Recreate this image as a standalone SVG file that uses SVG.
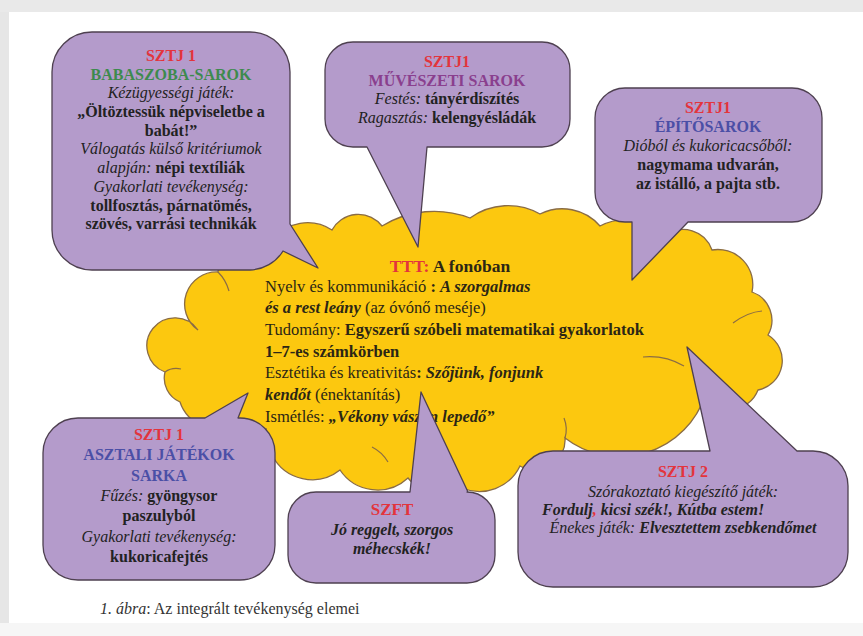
<svg xmlns="http://www.w3.org/2000/svg" width="863" height="636" viewBox="0 0 863 636">
<style>
text{font-family:"Liberation Serif","Times New Roman",serif;font-size:16px;fill:#222}
.c{text-anchor:middle}
.b{font-weight:bold}
.i{font-style:italic}
.bi{font-weight:bold;font-style:italic}
.red{fill:#e3343c}
.call{fill:#b49bcb;stroke:#4e4050;stroke-width:1.3;stroke-linejoin:round}
.cloud{fill:#fcc80f;stroke:#8a6c45;stroke-width:1.3}
.inner{fill:none;stroke:#8a6c45;stroke-width:1.2}
.ct{font-size:16.5px;fill:#2b2615}
</style>
<rect x="0" y="0" width="863" height="636" fill="#f6f6f6"/>
<rect x="0" y="0" width="863" height="12" fill="#e9e9e9"/>
<rect x="0" y="12" width="9" height="611" fill="#e6e6e6"/>
<rect x="9" y="12" width="854" height="611" fill="#ffffff"/>

<g id="cloud">
<path class="cloud" d="M 198 330 A 32 32 0 0 1 218 272 A 38 38 0 0 1 272 240 A 45 45 0 0 1 332 230 A 30 30 0 0 1 382 226 A 100 100 0 0 1 470 218 A 65 65 0 0 1 540 214 A 50 50 0 0 1 600 226 A 55 55 0 0 1 665 236 A 30 30 0 0 1 712 250 A 35 35 0 0 1 752 292 A 30 30 0 0 1 768 335 A 30 30 0 0 1 758 390 A 30 30 0 0 1 705 396 A 90 90 0 0 1 565 438 A 30 30 0 0 1 520 466 A 45 45 0 0 1 462 488 A 40 40 0 0 1 408 478 A 45 45 0 0 1 340 470 A 45 45 0 0 1 272 455 A 28 28 0 0 1 240 420 A 38 38 0 0 1 180 402 A 26 26 0 0 1 165 372 A 28 28 0 1 1 198 330 Z"/>
<path class="inner" d="M 733 323 Q 748 312 762 311"/>
<path class="inner" d="M 643 357 Q 665 355 684 366"/>
<path class="inner" d="M 565 438 Q 568 428 564 418"/>
<path class="inner" d="M 372 447 Q 382 452 388 462"/>
<path class="inner" d="M 268 455 Q 268 440 266 428"/>
<path class="inner" d="M 165 372 Q 172 367 181 369"/>
<path class="inner" d="M 218 272 Q 226 280 229 291"/>
</g>

<g id="cloud-text">
<text class="b c" x="450" y="272" style="font-size:17.5px;fill:#2b2615"><tspan class="red">TTT:</tspan> A fonóban</text>
<text class="ct" x="265" y="292">Nyelv és kommunikáció <tspan class="b">: </tspan><tspan class="bi">A szorgalmas</tspan></text>
<text class="ct" x="265" y="313"><tspan class="bi">és a rest leány</tspan> (az óvónő meséje)</text>
<text class="ct" x="265" y="335">Tudomány: <tspan class="b">Egyszerű szóbeli matematikai gyakorlatok</tspan></text>
<text class="ct b" x="265" y="357">1–7-es számkörben</text>
<text class="ct" x="265" y="378">Esztétika és kreativitás<tspan class="b">: </tspan><tspan class="bi">Szőjünk, fonjunk</tspan></text>
<text class="ct" x="265" y="400"><tspan class="bi">kendőt</tspan> (énektanítás)</text>
<text class="ct" x="265" y="422">Ismétlés: <tspan class="bi">„Vékony vászon lepedő”</tspan></text>
</g>

<g id="connectors"></g>

<g id="babaszoba">
<path class="call" d="M 92 32 H 250 A 40 40 0 0 1 290 72 V 224 L 318 268 L 283 251 A 40 40 0 0 1 250 270 H 92 A 40 40 0 0 1 52 230 V 72 A 40 40 0 0 1 92 32 Z"/>
<text class="b c red" x="171" y="61">SZTJ 1</text>
<text class="b c" x="171" y="80" style="fill:#3d8a4e">BABASZOBA-SAROK</text>
<text class="i c" x="171" y="98">Kézügyességi játék:</text>
<text class="b c" x="171" y="117">„Öltöztessük népviseletbe a</text>
<text class="b c" x="171" y="136">babát!”</text>
<text class="i c" x="171" y="154">Válogatás külső kritériumok</text>
<text class="c" x="171" y="173"><tspan class="i">alapján:</tspan> <tspan class="b">népi textíliák</tspan></text>
<text class="i c" x="171" y="192">Gyakorlati tevékenység:</text>
<text class="b c" x="171" y="211">tollfosztás, párnatömés,</text>
<text class="b c" x="171" y="229">szövés, varrási technikák</text>
</g>

<g id="muveszeti">
<path class="call" d="M 353 42 H 542 A 28 28 0 0 1 570 70 V 119 A 28 28 0 0 1 542 147 H 427 L 418 247 L 367 147 H 353 A 28 28 0 0 1 325 119 V 70 A 28 28 0 0 1 353 42 Z"/>
<text class="b c red" x="447" y="67">SZTJ1</text>
<text class="b c" x="447" y="86" style="fill:#8a3f8e">MŰVÉSZETI SAROK</text>
<text class="c" x="447" y="104"><tspan class="i">Festés:</tspan> <tspan class="b">tányérdíszítés</tspan></text>
<text class="c" x="447" y="123"><tspan class="i">Ragasztás:</tspan> <tspan class="b">kelengyésládák</tspan></text>
</g>

<g id="epitosarok">
<path class="call" d="M 625 88 H 792 A 30 30 0 0 1 822 118 V 192 A 30 30 0 0 1 792 222 H 688 L 632 280 L 632 222 H 625 A 30 30 0 0 1 595 192 V 118 A 30 30 0 0 1 625 88 Z"/>
<text class="b c red" x="708" y="113">SZTJ1</text>
<text class="b c" x="708" y="132" style="fill:#4b4fa6">ÉPÍTŐSAROK</text>
<text class="i c" x="708" y="151">Dióból és kukoricacsőből:</text>
<text class="b c" x="708" y="170">nagymama udvarán,</text>
<text class="b c" x="708" y="189">az istálló, a pajta stb.</text>
</g>

<g id="asztali">
<path class="call" d="M 78 418 H 205 L 248 393 L 238 418 H 240 A 35 35 0 0 1 275 453 V 545 A 35 35 0 0 1 240 580 H 78 A 35 35 0 0 1 43 545 V 453 A 35 35 0 0 1 78 418 Z"/>
<text class="b c red" x="159" y="440">SZTJ 1</text>
<text class="b c" x="159" y="460" style="fill:#4b4fa6">ASZTALI JÁTÉKOK</text>
<text class="b c" x="159" y="481" style="fill:#4b4fa6">SARKA</text>
<text class="c" x="159" y="501"><tspan class="i">Fűzés:</tspan> <tspan class="b">gyöngysor</tspan></text>
<text class="b c" x="159" y="521">paszulyból</text>
<text class="i c" x="159" y="542">Gyakorlati tevékenység:</text>
<text class="b c" x="159" y="562">kukoricafejtés</text>
</g>

<g id="szft">
<path class="call" d="M 316 492 H 410 L 421 392 L 468 492 H 467 A 28 28 0 0 1 495 520 V 555 A 28 28 0 0 1 467 583 H 316 A 28 28 0 0 1 288 555 V 520 A 28 28 0 0 1 316 492 Z"/>
<text class="b c red" x="392" y="515" style="font-size:17px">SZFT</text>
<text class="bi c" x="392" y="535">Jó reggelt, szorgos</text>
<text class="bi c" x="392" y="554">méhecskék!</text>
</g>

<g id="sztj2">
<path class="call" d="M 553 451 H 710 L 687 347 L 797 451 H 813 A 35 35 0 0 1 848 486 V 552 A 35 35 0 0 1 813 587 H 553 A 35 35 0 0 1 518 552 V 486 A 35 35 0 0 1 553 451 Z"/>
<text class="b c red" x="683" y="477">SZTJ 2</text>
<text class="i c" x="683" y="497">Szórakoztató kiegészítő játék:</text>
<text class="bi" x="542" y="515">Fordulj<tspan class="red">,</tspan> kicsi szék!, Kútba estem!</text>
<text class="c" x="683" y="533"><tspan class="i">Énekes játék:</tspan> <tspan class="bi">Elvesztettem zsebkendőmet</tspan></text>
</g>

<text x="100" y="614" style="fill:#333"><tspan class="i">1. ábra</tspan>: Az integrált tevékenység elemei</text>
</svg>
